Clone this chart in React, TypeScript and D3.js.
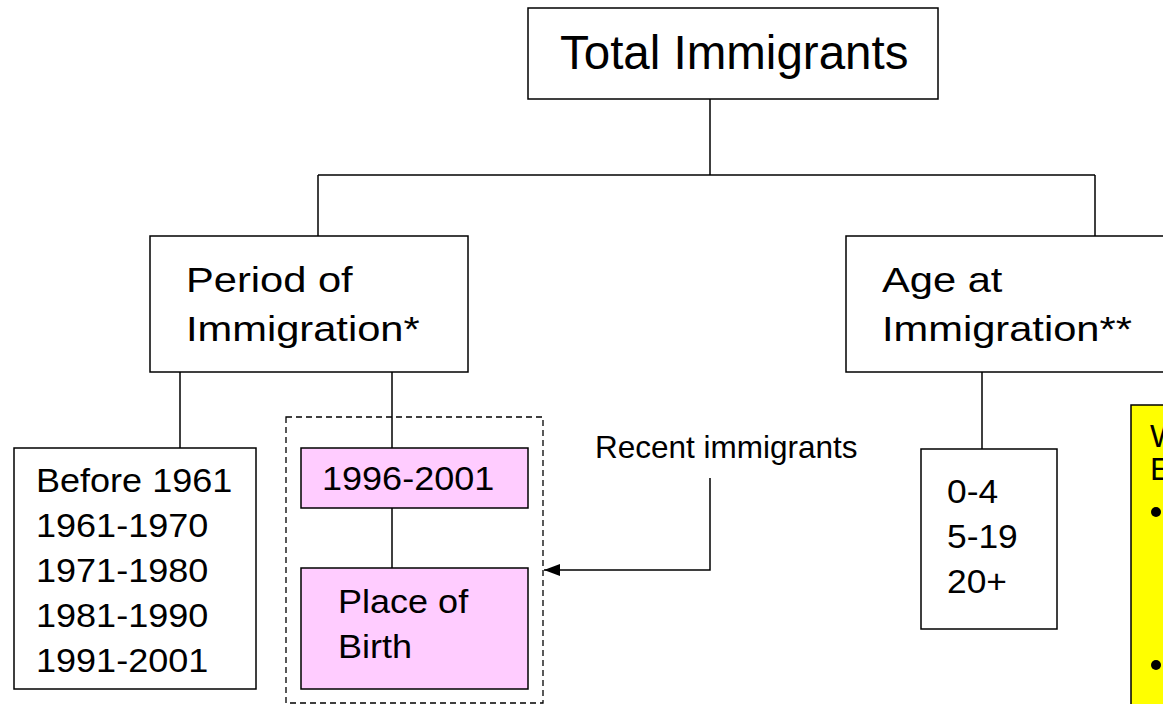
import { useRef, useEffect } from "react";
import * as d3 from "d3";

const rootLabel = "Total Immigrants";
const periodLabel = ["Period of", "Immigration*"];
const ageLabel = ["Age at", "Immigration**"];
const periodValues = ["Before 1961", "1961-1970", "1971-1980", "1981-1990", "1991-2001"];
const recentPeriod = "1996-2001";
const birthLabel = ["Place of", "Birth"];
const ageValues = ["0-4", "5-19", "20+"];
const recentNote = "Recent immigrants";
const noteLines = ["W", "E"];

const FONT = "'Liberation Sans', Arial, Helvetica, sans-serif";
const PINK = "#ffccff";
const YELLOW = "#ffff00";

export default function App() {
  const ref = useRef<SVGSVGElement>(null);

  useEffect(() => {
    if (!ref.current) return;
    const W = 1163, H = 704;
    const svg = d3.select(ref.current);
    svg.selectAll("*").remove();
    svg.attr("width", W).attr("height", H);

    const g = svg.append("g").attr("font-family", FONT).attr("fill", "#000");

    const box = (x: number, y: number, w: number, h: number, fill = "#fff") =>
      g.append("rect").attr("x", x).attr("y", y).attr("width", w).attr("height", h)
        .attr("fill", fill).attr("stroke", "#000").attr("stroke-width", 1.5);
    const line = (pts: [number, number][]) =>
      g.append("path").attr("d", d3.line()(pts)).attr("fill", "none").attr("stroke", "#000").attr("stroke-width", 1.5);
    // text lines, with a slight horizontal stretch like the source slide
    const lines = (txt: string[], x: number, y0: number, dy: number, size: number, sx = 1) =>
      txt.forEach((t, i) =>
        g.append("text").attr("transform", `translate(${x},${y0 + i * dy}) scale(${sx},1)`)
          .attr("font-size", size).text(t));

    // connectors
    line([[710, 99], [710, 175]]);
    line([[318, 175], [1095, 175]]);
    line([[318, 175], [318, 236]]);
    line([[1095, 175], [1095, 236]]);
    line([[180, 372], [180, 448]]);
    line([[392, 372], [392, 448]]);
    line([[392, 508], [392, 568]]);
    line([[982, 372], [982, 449]]);

    // root
    box(528, 8, 410, 91);
    lines([rootLabel], 560, 69, 0, 47.5);

    // level 2
    box(150, 236, 318, 136);
    lines(periodLabel, 186, 292, 49, 35, 1.19);
    box(846, 236, 330, 136);
    lines(ageLabel, 882, 292, 49, 35, 1.19);

    // period values
    box(14, 448, 242, 241);
    lines(periodValues, 36, 492, 45, 34, 1.06);

    // dashed group
    g.append("rect").attr("x", 286).attr("y", 417).attr("width", 257).attr("height", 286)
      .attr("fill", "none").attr("stroke", "#000").attr("stroke-width", 1.3).attr("stroke-dasharray", "6,4");

    box(301, 448, 227, 60, PINK);
    lines([recentPeriod], 322, 490, 0, 34, 1.06);
    box(301, 568, 227, 121, PINK);
    lines(birthLabel, 338, 613, 45, 34, 1.06);

    // arrow
    svg.append("defs").append("marker").attr("id", "arr").attr("viewBox", "0 -6 16 12")
      .attr("refX", 16).attr("refY", 0).attr("markerWidth", 16).attr("markerHeight", 12)
      .attr("markerUnits", "userSpaceOnUse").attr("orient", "auto")
      .append("path").attr("d", "M0,-6L16,0L0,6Z").attr("fill", "#000");
    line([[710, 478], [710, 570], [544, 570]]).attr("marker-end", "url(#arr)");
    lines([recentNote], 595, 458, 0, 31.5);

    // age values
    box(921, 449, 136, 180);
    lines(ageValues, 947, 503, 45, 34, 1.04);

    // note box (cropped at the right edge)
    box(1131, 405, 60, 320, YELLOW);
    lines(noteLines, 1150, 447, 33, 32);
    [512, 665].forEach((cy) => g.append("circle").attr("cx", 1156).attr("cy", cy).attr("r", 5));
  }, []);

  return <svg ref={ref} style={{ display: "block", position: "absolute", left: 0, top: 0 }} />;
}
